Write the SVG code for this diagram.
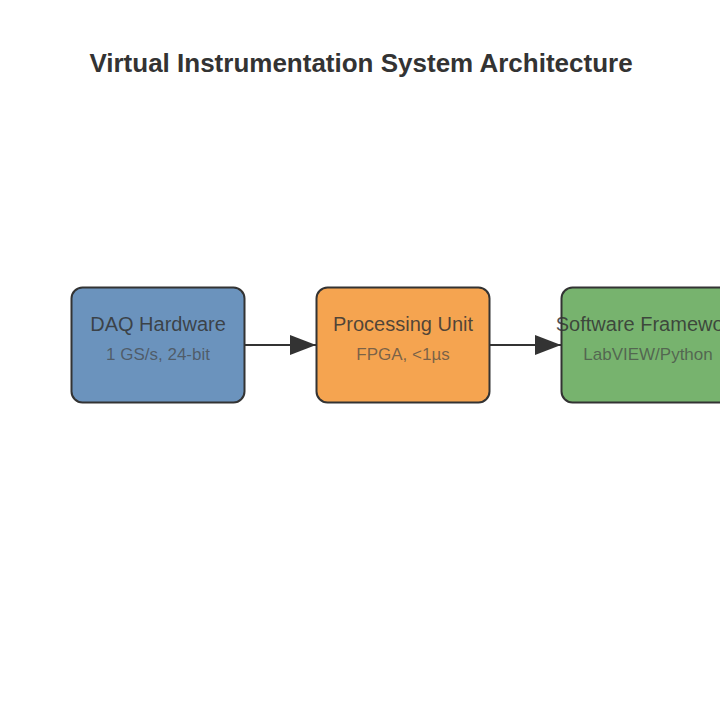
<svg xmlns="http://www.w3.org/2000/svg" width="720" height="720" viewBox="0 0 720 720">
<style>
.title{font-family:"Liberation Sans",Arial,sans-serif;font-size:26px;font-weight:bold;fill:#333;text-anchor:middle}
.box{stroke:#333;stroke-width:2}
.lbl{font-family:"Liberation Sans",Arial,sans-serif;font-size:20px;fill:#333;fill-opacity:0.85;text-anchor:middle}
.sub{font-family:"Liberation Sans",Arial,sans-serif;font-size:17px;fill:#444;fill-opacity:0.7;text-anchor:middle}
.edge{stroke:#333;stroke-width:2;fill:none}
</style>
<defs>
<marker id="arrow" viewBox="0 0 26 20" refX="26" refY="10" markerWidth="26" markerHeight="20" orient="auto" markerUnits="userSpaceOnUse">
<path d="M0,0 L26,10 L0,20 Z" fill="#333"/>
</marker>
</defs>
<rect width="720" height="720" fill="#fff"/>
<text class="title" x="361" y="72">Virtual Instrumentation System Architecture</text>
<g id="connectors">
<line class="edge" x1="245" y1="345" x2="316" y2="345" marker-end="url(#arrow)"/>
<line class="edge" x1="490" y1="345" x2="561" y2="345" marker-end="url(#arrow)"/>
</g>
<g id="node-daq">
<rect class="box" x="71.5" y="287.5" width="173" height="115" rx="11" fill="#6b93bd"/>
<text class="lbl" x="158" y="331">DAQ Hardware</text>
<text class="sub" x="158" y="360">1 GS/s, 24-bit</text>
</g>
<g id="node-processing">
<rect class="box" x="316.5" y="287.5" width="173" height="115" rx="11" fill="#f5a450"/>
<text class="lbl" x="403" y="331">Processing Unit</text>
<text class="sub" x="403" y="360">FPGA, &lt;1µs</text>
</g>
<g id="node-software">
<rect class="box" x="561.5" y="287.5" width="173" height="115" rx="11" fill="#77b36e"/>
<text class="lbl" x="648" y="331">Software Framework</text>
<text class="sub" x="648" y="360">LabVIEW/Python</text>
</g>
</svg>
